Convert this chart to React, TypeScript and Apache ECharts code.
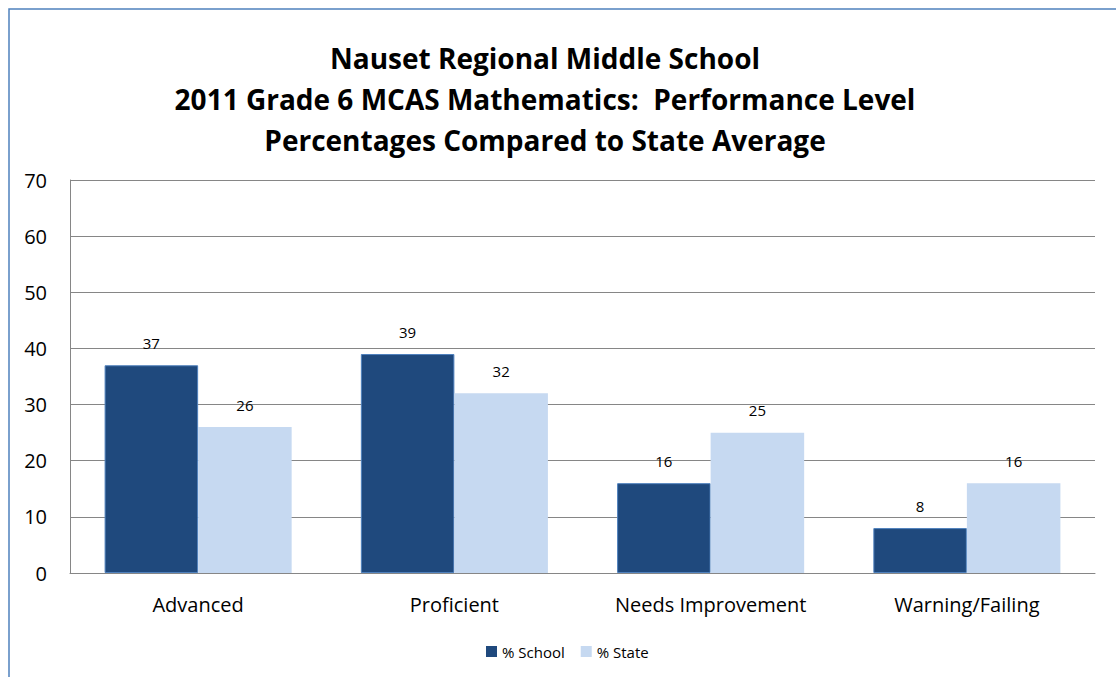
import React, { useEffect, useRef } from "react";
import * as echarts from "echarts";

const categories = ["Advanced", "Proficient", "Needs Improvement", "Warning/Failing"];
const schoolValues = [37, 39, 16, 8];
const stateValues = [26, 32, 25, 16];
const titleLines = [
  "Nauset Regional Middle School",
  "2011 Grade 6 MCAS Mathematics:  Performance Level",
  "Percentages Compared to State Average",
];

export default function App() {
  const ref = useRef<HTMLDivElement>(null);
  useEffect(() => {
    document.body.style.margin = "0";
    const chart = echarts.init(ref.current!, null, { renderer: "svg" });
    const font = "Open Sans, Liberation Sans, sans-serif";
    chart.setOption({
      animation: false,
      textStyle: { fontFamily: font },
      title: {
        text: titleLines.join("\n"),
        left: 540,
        textAlign: "center",
        top: 32,
        textStyle: { fontSize: 28, fontWeight: "bold", color: "#000", lineHeight: 41, fontFamily: font },
      },
      graphic: [
        {
          type: "rect",
          shape: { x: 9, y: 9, width: 1300, height: 900 },
          style: { fill: "none", stroke: "#4f81bd", lineWidth: 1.5 },
          silent: true,
        },
      ],
      grid: { left: 70, right: 21, top: 180, bottom: 104, containLabel: false },
      legend: {
        data: ["% School", "% State"],
        left: 481,
        top: 639,
        itemWidth: 11,
        itemHeight: 11,
        itemGap: 16,
        itemStyle: { borderWidth: 0 },
        icon: "rect",
        textStyle: { fontSize: 15, color: "#000", fontFamily: font },
      },
      xAxis: {
        type: "category",
        data: categories,
        axisLine: { show: true, lineStyle: { color: "#868686", width: 1 } },
        axisTick: { show: false },
        axisLabel: { fontSize: 20, color: "#000", margin: 21, fontFamily: font },
      },
      yAxis: {
        type: "value",
        min: 0,
        max: 70,
        interval: 10,
        axisLine: { show: true, lineStyle: { color: "#868686", width: 1 } },
        axisTick: { show: false },
        splitLine: { lineStyle: { color: "#868686", width: 1 } },
        axisLabel: { fontSize: 20, color: "#000", margin: 23, fontFamily: font },
      },
      series: [
        {
          name: "% School",
          type: "bar",
          data: schoolValues,
          barGap: "0%",
          barCategoryGap: "27%",
          itemStyle: { color: "#1f497d", borderColor: "#4f81bd", borderWidth: 1 },
          label: { show: true, position: "top", distance: 15, fontSize: 15, color: "#000", fontFamily: font },
        },
        {
          name: "% State",
          type: "bar",
          data: stateValues,
          itemStyle: { color: "#c6d9f1" },
          label: { show: true, position: "top", distance: 15, fontSize: 15, color: "#000", fontFamily: font },
        },
      ],
    });
    return () => chart.dispose();
  }, []);
  return <div ref={ref} style={{ width: 1116, height: 677 }} />;
}
